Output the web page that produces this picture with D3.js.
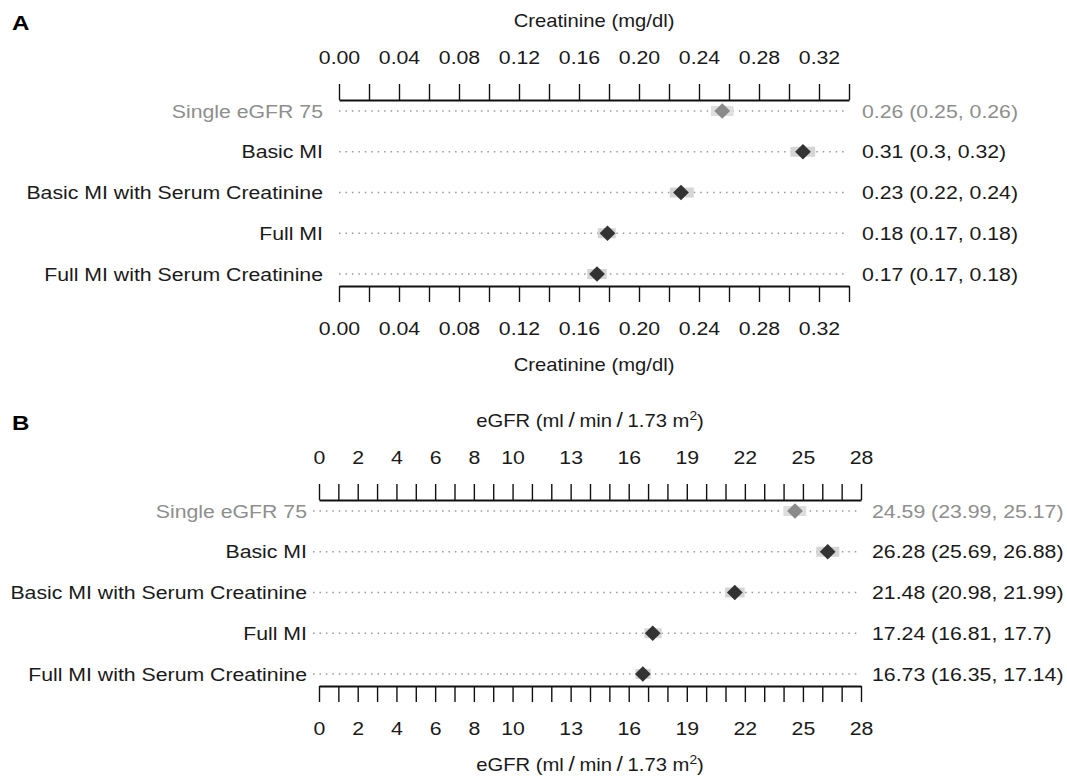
<!DOCTYPE html>
<html>
<head>
<meta charset="utf-8">
<script src="https://cdn.jsdelivr.net/npm/d3@7"></script>
<style>
  body { margin: 0; background: #fff; }
  text { font-family: "Liberation Sans", Arial, Helvetica, sans-serif; }
</style>
</head>
<body>
<svg id="chart" width="1067" height="783"></svg>
<script>
const models = ["Single eGFR 75", "Basic MI", "Basic MI with Serum Creatinine", "Full MI", "Full MI with Serum Creatinine"];

// panel A: creatinine (mg/dl), marks, printed text as shown
const creatEst = [0.2555, 0.3093, 0.228, 0.179, 0.172];
const creatLo = [0.248, 0.301, 0.2205, 0.1725, 0.1655];
const creatHi = [0.263, 0.3175, 0.2365, 0.1845, 0.1785];
const creatText = ["0.26 (0.25, 0.26)", "0.31 (0.3, 0.32)", "0.23 (0.22, 0.24)", "0.18 (0.17, 0.18)", "0.17 (0.17, 0.18)"];
const creatTicks = [0, 0.02, 0.04, 0.06, 0.08, 0.10, 0.12, 0.14, 0.16, 0.18, 0.20, 0.22, 0.24, 0.26, 0.28, 0.30, 0.32, 0.34];
const creatTickLabels = [0, 0.04, 0.08, 0.12, 0.16, 0.20, 0.24, 0.28, 0.32];

// panel B: eGFR (ml/min/1.73 m2)
const egfrEst = [24.59, 26.28, 21.48, 17.24, 16.73];
const egfrLo = [23.99, 25.69, 20.98, 16.81, 16.35];
const egfrHi = [25.17, 26.88, 21.99, 17.7, 17.14];
const egfrTicks = [0, 1, 2, 3, 4, 5, 6, 7, 8, 9, 10, 11, 12, 13, 14, 15, 16, 17, 18, 19, 20, 21, 22, 23, 24, 25, 26, 27, 28];
const egfrTickLabels = [0, 2, 4, 6, 8, 10, 13, 16, 19, 22, 25, 28];

const svg = d3.select("#chart");
const ink = "#1a1a1a", faded = "#8e8e8e";
const SX = 1.15; // the figure's type is a little wide, like a stretched Helvetica

// d3-selection-multi is not loaded, so a tiny attrs helper
d3.selection.prototype.attrs = function(o) {
  for (let k in o) this.attr(k, o[k]);
  return this;
};

function stretched(parent, x, y, str, anchor, size) {
  return parent.append("g")
    .attr("transform", `translate(${x},${y})`)
    .append("text")
    .attrs({
      transform: `scale(${SX},1)`,
      "text-anchor": anchor,
      "font-size": size || 18.5,
      fill: ink
    })
    .text(str);
}

function title_text(parent, x, y, parts) {
  let t = stretched(parent, x, y, null, "middle", 17.6);
  parts.forEach(([s, opt]) => {
    let ts = t.append("tspan").text(s);
    if (opt) ts.attrs(opt);
  });
}

function draw_panel(p) {
  let g = svg.append("g").attr("transform", `translate(0,${p.oy})`);
  let x = d3.scaleLinear().domain(p.domain).range(p.range);
  let y = d3.scalePoint().domain(models).range([111, 274]);
  let rows = models.map((m, i) => ({m: m, est: p.est[i], lo: p.lo[i], hi: p.hi[i], text: p.text[i], i: i}));

  // panel letter
  stretched(g, 12, 30, p.letter, "start", 21)
    .attr("font-weight", "bold")
    .attr("fill", "#000");

  // axes: tick marks, then labels on their own
  [["top", 100], ["bottom", 286]].forEach(([side, ay]) => {
    let mk = side == "top" ? d3.axisTop : d3.axisBottom;
    let ticks = g.append("g").attr("transform", `translate(0,${ay})`)
      .call(mk(x).tickValues(p.ticks).tickFormat("").tickSize(16).tickSizeOuter(0));
    ticks.select(".domain").attr("stroke", "#111").attr("stroke-width", 2);
    ticks.selectAll(".tick line").attr("stroke", "#111").attr("stroke-width", 1.4);

    let labs = g.append("g").attr("transform", `translate(0,${ay})`)
      .call(mk(x).tickValues(p.labels).tickFormat(p.fmt).tickSize(0).tickPadding(36));
    labs.select(".domain").remove();
    labs.attr("font-family", null).attr("font-size", null);
    labs.selectAll("text")
      .attrs({
        "font-size": 18.5,
        fill: ink,
        transform: `scale(${SX},1)`
      });
    if (side == "bottom") labs.selectAll("text").attr("dy", "0.72em");

    title_text(g, (p.range[0] + p.range[1]) / 2, side == "top" ? 27 : 371, p.title);
  });

  // dotted guide lines
  g.selectAll("line.guide")
    .data(rows).enter()
    .append("line")
    .attrs({
      x1: p.dots[0], x2: p.dots[1],
      y1: d => y(d.m), y2: d => y(d.m),
      stroke: "#999",
      "stroke-width": 1.5,
      "stroke-dasharray": "1.5,4.95"
    });

  // interval bands
  g.selectAll("rect.ci")
    .data(rows).enter()
    .append("rect")
    .attrs({
      x: d => x(d.lo),
      width: d => x(d.hi) - x(d.lo),
      y: d => y(d.m) - 5,
      height: 10,
      fill: d => d.i == 0 ? "#dedede" : "#d5d5d5"
    });

  // diamonds
  g.selectAll("path.pt")
    .data(rows).enter()
    .append("path")
    .attrs({
      d: d3.symbol(d3.symbolSquare, 124),
      transform: d => `translate(${x(d.est)},${y(d.m)}) rotate(45)`,
      fill: d => d.i == 0 ? "#8a8a8a" : "#333"
    });

  // row names and printed estimates
  rows.forEach(d => {
    stretched(g, p.labelX, y(d.m) + 6.5, d.m, "end").attr("fill", d.i == 0 ? faded : ink);
    stretched(g, p.textX, y(d.m) + 6.5, d.text, "start").attr("fill", d.i == 0 ? faded : ink);
  });
}

draw_panel({
  oy: 0, letter: "A",
  title: [["Creatinine (mg/dl)"]],
  domain: [0, 0.34], range: [339, 849],
  ticks: creatTicks, labels: creatTickLabels, fmt: d3.format(".2f"),
  est: creatEst, lo: creatLo, hi: creatHi, text: creatText,
  labelX: 323, textX: 862, dots: [339, 847]
});

draw_panel({
  oy: 400, letter: "B",
  title: [
    ["eGFR (ml"],
    ["/", {"font-size": 20, dx: 4}],
    ["min", {"font-size": 17.6, dx: 4}],
    ["/", {"font-size": 20, dx: 4}],
    ["1.73 m", {"font-size": 17.6, dx: 4}],
    ["2", {"font-size": 12, dy: -7}],
    [")", {"font-size": 17.6, dy: 7}]
  ],
  domain: [0, 28], range: [319, 861],
  ticks: egfrTicks, labels: egfrTickLabels, fmt: d3.format("d"),
  est: egfrEst, lo: egfrLo, hi: egfrHi,
  text: egfrEst.map((e, i) => `${e} (${egfrLo[i]}, ${egfrHi[i]})`),
  labelX: 307, textX: 872, dots: [313, 859]
});
</script>
</body>
</html>
